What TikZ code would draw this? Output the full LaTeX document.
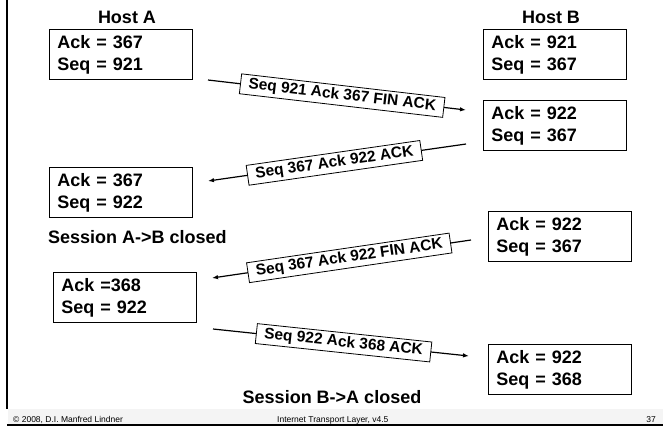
\documentclass[tikz,border=0pt]{standalone}
\usepackage{fontspec}
\setmainfont{Liberation Sans}
\usetikzlibrary{arrows.meta}
\begin{document}
\begin{tikzpicture}[x=1pt,y=-1pt,
  state/.style={draw=black,line width=0.9pt,anchor=north west,minimum height=50pt,
    inner xsep=8pt,inner ysep=0pt,align=left,text width=127pt,
    font=\bfseries\fontsize{18}{22}\selectfont},
  heading/.style={font=\bfseries\fontsize{18}{22}\selectfont,inner sep=0pt},
  msg/.style={line width=1.2pt,-{Latex[length=6pt,width=4.5pt]}},
  lbl/.style={draw=black,fill=white,line width=0.8pt,sloped,inner xsep=8pt,
    inner ysep=2pt,minimum height=20pt,font=\bfseries\fontsize{15.5}{17}\selectfont},
  foot/.style={font=\fontsize{8.5}{10}\selectfont,inner sep=0pt,anchor=base west}]
\useasboundingbox (0,0) rectangle (663,426);

% slide frame and footer band
\fill[gray!9] (8,409) rectangle (663,424);
\draw[line width=2pt] (7,0) -- (7,409);
\draw[line width=1.4pt] (7,424.8) -- (663,424.8);
\node[foot] (copy) at (13,422) {© 2008, D.I. Manfred Lindner};
\node[foot] (title) at (277,422) {Internet Transport Layer, v4.5};
\node[foot,anchor=base east] (page) at (656,422) {37};

% host headings
\node[heading] (hostA) at (127,17) {Host A};
\node[heading] (hostB) at (551,17) {Host B};

% connection state of host A
\node[state] (a1) at (49,29) {Ack = 367\\Seq = 921};
\node[state] (a2) at (49,167) {Ack = 367\\Seq = 922};
\node[state] (a3) at (53,272) {Ack =368\\Seq = 922};

% connection state of host B
\node[state] (b1) at (483,29) {Ack = 921\\Seq = 367};
\node[state] (b2) at (483,100) {Ack = 922\\Seq = 367};
\node[state] (b3) at (488,211) {Ack = 922\\Seq = 367};
\node[state] (b4) at (488,344) {Ack = 922\\Seq = 368};

% session notes
\node[heading,anchor=west] (closedAB) at (48,237) {Session A->B closed};
\node[heading] (closedBA) at (332,397) {Session B->A closed};

% segment end points
\coordinate (s1) at (208,80);
\coordinate (e1) at (466,110);
\coordinate (s2) at (466,144);
\coordinate (e2) at (208,181);
\coordinate (s3) at (471,240);
\coordinate (e3) at (212,278);
\coordinate (s4) at (213,329);
\coordinate (e4) at (469,356);

% exchanged segments
\draw[msg] (s1) -- node[lbl,pos=0.52] (m1) {Seq 921 Ack 367 FIN ACK} (e1);
\draw[msg] (s2) -- node[lbl,pos=0.51] (m2) {Seq 367 Ack 922 ACK} (e2);
\draw[msg] (s3) -- node[lbl,pos=0.47] (m3) {Seq 367 Ack 922 FIN ACK} (e3);
\draw[msg] (s4) -- node[lbl,pos=0.51] (m4) {Seq 922 Ack 368 ACK} (e4);
\end{tikzpicture}
\end{document}
